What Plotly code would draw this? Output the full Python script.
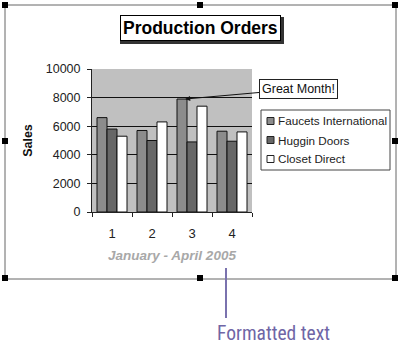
import plotly.graph_objects as go

months = ["1", "2", "3", "4"]
faucets = [6600, 5700, 7900, 5650]
huggin = [5800, 5000, 4900, 4950]
closet = [5300, 6300, 7400, 5600]
series_names = ["Faucets International", "Huggin Doors", "Closet Direct"]
series_colors = ["#8c8c8c", "#676767", "#ffffff"]
y_ticks = [0, 2000, 4000, 6000, 8000, 10000]

W, H = 401, 344
def px(x):
    return x / W
def py(y):
    return 1 - y / H

fig = go.Figure()
for name, vals, col in zip(series_names, [faucets, huggin, closet], series_colors):
    fig.add_trace(go.Bar(x=months, y=vals, name=name, showlegend=False,
                         marker=dict(color=col, line=dict(color="#111", width=1))))

font_main = "Arial, Liberation Sans, sans-serif"
fig.update_layout(
    width=W, height=H,
    autosize=False,
    margin=dict(l=0, r=0, t=0, b=0, pad=0, autoexpand=False),
    paper_bgcolor="white",
    plot_bgcolor="#c0c0c0",
    barmode="group", bargap=0.25, bargroupgap=0,
    font=dict(family=font_main, size=12, color="#222"),
    xaxis=dict(domain=[px(92), px(252)], type="category", tickson="boundaries",
               automargin=False,
               ticks="outside", ticklen=4, tickcolor="#222", showline=True,
               linecolor="#222", linewidth=1, showgrid=False,
               ticklabelstandoff=9, tickfont=dict(size=13),
               title=dict(text="<b><i>January - April 2005</i></b>",
                          font=dict(size=13.5, color="#a8a8a8"), standoff=10)),
    yaxis=dict(domain=[py(212), py(69)], range=[0, 10000], tickvals=y_ticks,
               automargin=False, tickformat="d",
               ticks="outside", ticklen=4, tickcolor="#222", showline=True,
               linecolor="#222", linewidth=1, gridcolor="#111", gridwidth=1,
               zeroline=False, ticklabelstandoff=4, tickfont=dict(size=12.5),
               title=dict(text="<b>Sales</b>", font=dict(size=12.5, color="#111"),
                          standoff=10)),
    showlegend=False,
)

shapes = []
# outer chart frame
shapes.append(dict(type="rect", xref="paper", yref="paper", x0=px(5), x1=px(396),
                   y0=py(279), y1=py(5), line=dict(color="#666", width=1)))
# title shadow
shapes.append(dict(type="rect", xref="paper", yref="paper", x0=px(120), x1=px(284),
                   y0=py(44), y1=py(17), fillcolor="#333", line=dict(width=0)))
# handles
for hx, hy in [(5, 5), (200, 5), (395, 5), (5, 141), (395, 141), (5, 278), (200, 278), (395, 278)]:
    shapes.append(dict(type="rect", xref="paper", yref="paper",
                       x0=px(hx - 3), x1=px(hx + 3), y0=py(hy + 3), y1=py(hy - 3),
                       fillcolor="black", line=dict(width=0)))
# callout line
shapes.append(dict(type="line", xref="paper", yref="paper", x0=px(226), x1=px(226),
                   y0=py(268), y1=py(318), line=dict(color="#7a72ae", width=2)))

# legend box (drawn manually to match the compact Excel legend)
LX0, LX1, LY0, LY1 = 261, 390, 110, 170
shapes.append(dict(type="rect", xref="paper", yref="paper", x0=px(LX0), x1=px(LX1),
                   y0=py(LY1), y1=py(LY0), fillcolor="white",
                   line=dict(color="#444", width=1)))
for i, (name, col) in enumerate(zip(series_names, series_colors)):
    cy = 121 + 19 * i
    shapes.append(dict(type="rect", xref="paper", yref="paper",
                       x0=px(267), x1=px(274), y0=py(cy + 3.5), y1=py(cy - 3.5),
                       fillcolor=col, line=dict(color="#222", width=1)))
    fig.add_annotation(xref="paper", yref="paper", x=px(276), y=py(cy),
                       xanchor="left", yanchor="middle", text=name, showarrow=False,
                       font=dict(size=11.7, color="#222"))
fig.update_layout(shapes=shapes)

fig.add_annotation(xref="paper", yref="paper", x=px(200), y=py(28),
                   xanchor="center", yanchor="middle",
                   text="<b>Production Orders</b>", showarrow=False,
                   font=dict(size=17.5, color="black", family=font_main),
                   bgcolor="white", bordercolor="black", borderwidth=1, borderpad=2)
fig.add_annotation(x=1.83, y=7900, xref="x", yref="y", ax=113, ay=-10,
                   text="Great Month!", showarrow=True, arrowhead=2, arrowsize=1,
                   arrowwidth=1, arrowcolor="#111",
                   font=dict(size=12.5, color="#111"),
                   bgcolor="white", bordercolor="#222", borderwidth=1, borderpad=2)
fig.add_annotation(xref="paper", yref="paper", x=px(273), y=py(333),
                   xanchor="center", yanchor="middle",
                   text="Formatted text", showarrow=False,
                   font=dict(size=19.5, color="#6f66a6",
                             family="Liberation Sans Narrow, Roboto Condensed, Roboto, sans-serif"))

fig.write_html("out.html")
